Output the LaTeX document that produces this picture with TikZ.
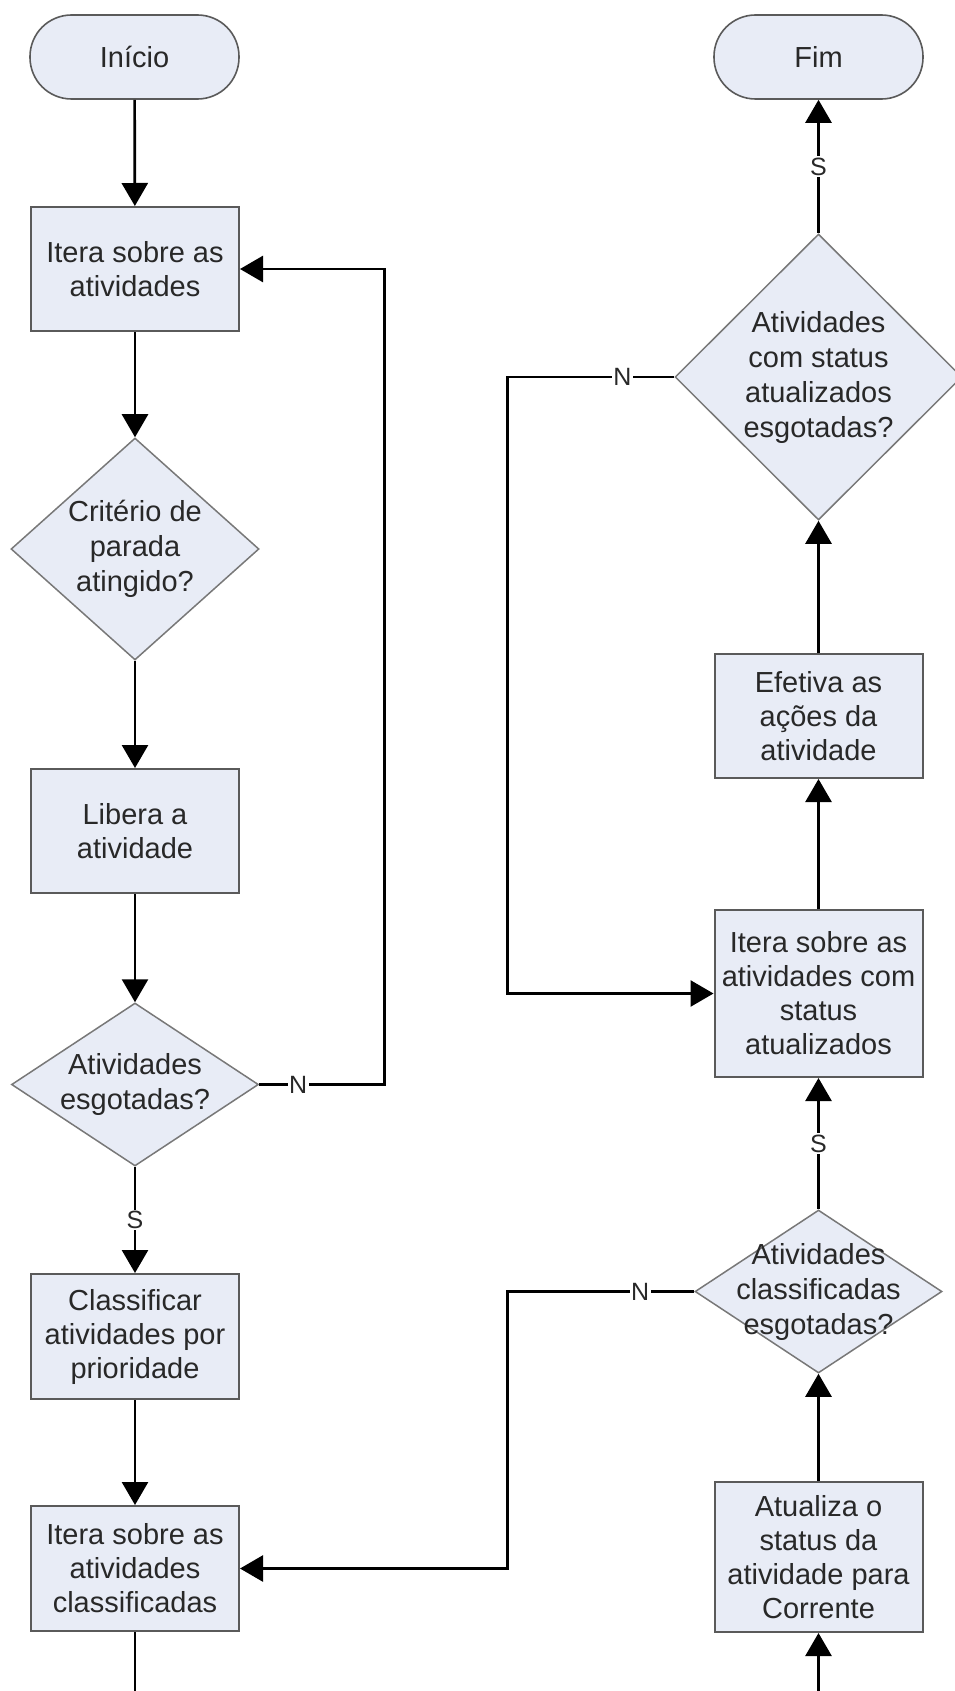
\documentclass[tikz,border=0pt]{standalone}
\usepackage{fontspec}
\setmainfont{Liberation Sans}
\usetikzlibrary{shapes.geometric,arrows.meta}
\definecolor{boxfill}{RGB}{232,236,246}
\definecolor{boxline}{RGB}{90,90,90}
\definecolor{dialine}{RGB}{120,120,120}
\definecolor{txt}{RGB}{40,40,40}
\begin{document}
\begin{tikzpicture}[x=1pt,y=-1pt,
  base/.style={fill=boxfill, text=txt, font=\fontsize{29}{34}\selectfont, align=center, inner sep=1pt},
  term/.style={base, draw=boxline, line width=1.6pt, rectangle, rounded corners=41.5pt, minimum width=209pt, minimum height=84pt},
  proc/.style={base, draw=boxline, line width=2pt, rectangle, minimum width=208pt},
  dtext/.style={text=txt, font=\fontsize{29}{35}\selectfont, align=center, inner sep=0pt},
  decision/.style={fill=boxfill, draw=dialine, line width=1.5pt, diamond, inner sep=0pt},
  flow/.style={line width=2.7pt, -{Triangle[width=26pt,length=23pt]}},
  plain/.style={line width=2.7pt},
  tag/.style={fill=white, text=txt, font=\fontsize{25}{25}\selectfont, inner sep=1.5pt}
]
\useasboundingbox (0,0) rectangle (955,1691);

% left column
\node[term] (inicio) at (134.5,57) {Início};
\node[proc, minimum height=124pt] (iter1) at (135,269) {Itera sobre as\\atividades};
\node[decision, minimum width=248pt, minimum height=222pt,
      label={[dtext]center:Critério de\\parada\\atingido?}] (crit) at (135,549) {};
\node[proc, minimum height=124pt] (libera) at (135,831) {Libera a\\atividade};
\node[decision, minimum width=247pt, minimum height=163pt,
      label={[dtext]center:Atividades\\esgotadas?}] (esg) at (135,1084.5) {};
\node[proc, minimum height=125pt] (classif) at (135,1336.5) {Classificar\\atividades por\\prioridade};
\node[proc, minimum height=125pt] (iter2) at (135,1568.5) {Itera sobre as\\atividades\\classificadas};
\coordinate (leftend) at (135,1691);

% right column
\node[term] (fim) at (818.5,57) {Fim};
\node[decision, minimum width=287pt, minimum height=286pt,
      label={[dtext]center:Atividades\\com status\\atualizados\\esgotadas?}] (esgst) at (818.5,377) {};
\node[proc, minimum height=124pt] (efetiva) at (818.5,716) {Efetiva as\\ações da\\atividade};
\node[proc, minimum height=167pt] (iter3) at (818.5,993.5) {Itera sobre as\\atividades com\\status\\atualizados};
\node[decision, minimum width=247pt, minimum height=163pt,
      label={[dtext]center:Atividades\\classificadas\\esgotadas?}] (esgcl) at (818.5,1291.5) {};
\node[proc, minimum height=150pt] (atualiza) at (818.5,1557) {Atualiza o\\status da\\atividade para\\Corrente};
\coordinate (rightstart) at (818.5,1691);

% left column flow
\draw[flow] (inicio) -- (iter1);
\draw[flow] (iter1) -- (crit);
\draw[flow] (crit) -- (libera);
\draw[flow] (libera) -- (esg);
\draw[flow] (esg) -- node[tag, midway]{S} (classif);
\draw[flow] (esg.east) -- node[tag, pos=0.31]{N} ++(125.5,0) |- (iter1.east);
\draw[flow] (classif) -- (iter2);
\draw[plain] (iter2) -- (leftend);

% right column flow
\draw[flow] (rightstart) -- (atualiza);
\draw[flow] (atualiza) -- (esgcl);
\draw[flow] (esgcl.west) -- node[tag, pos=0.29]{N} ++(-187,0) |- (iter2.east);
\draw[flow] (esgcl) -- node[tag, midway]{S} (iter3);
\draw[flow] (iter3) -- (efetiva);
\draw[flow] (efetiva) -- (esgst);
\draw[flow] (esgst.west) -- node[tag, pos=0.31]{N} ++(-167,0) |- (iter3.west);
\draw[flow] (esgst) -- node[tag, midway]{S} (fim);
\end{tikzpicture}
\end{document}
